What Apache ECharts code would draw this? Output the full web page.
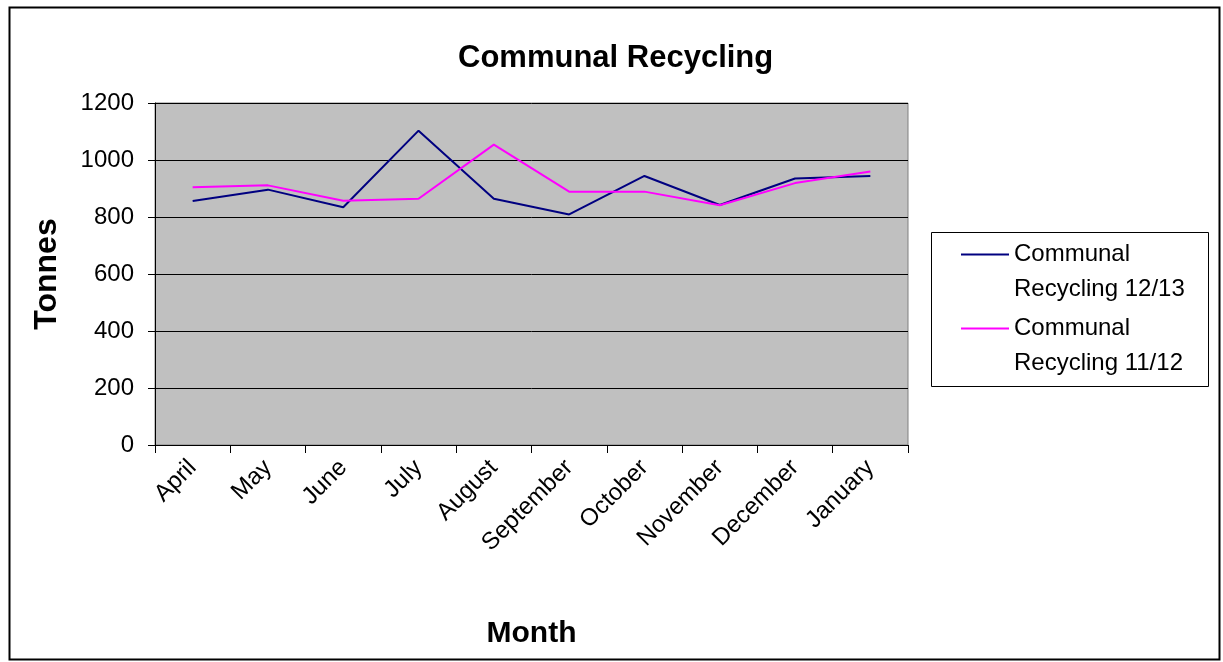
<!DOCTYPE html>
<html>
<head>
<meta charset="utf-8">
<script src="https://cdn.jsdelivr.net/npm/echarts@6/dist/echarts.min.js"></script>
<style>
html,body{margin:0;padding:0;background:#fff;}
#chart{width:1223px;height:662px;}
</style>
</head>
<body>
<div id="chart"></div>
<script>
const months = ['April','May','June','July','August','September','October','November','December','January'];
const recycling1213 = [856, 896, 834, 1103, 864, 809, 944, 842, 935, 944];
const recycling1112 = [904, 911, 857, 864, 1054, 889, 889, 841, 919, 960];
const yTicks = [0, 200, 400, 600, 800, 1000, 1200];
const seriesNames = ['Communal\nRecycling 12/13', 'Communal\nRecycling 11/12'];

const FONT = "'Liberation Sans', Arial, sans-serif";
const chart = echarts.init(document.getElementById('chart'), null, {renderer: 'canvas'});
chart.setOption({
  animation: false,
  backgroundColor: '#ffffff',
  title: {
    text: 'Communal Recycling',
    left: 453, top: 38,
    textStyle: {fontFamily: FONT, fontSize: 31, fontWeight: 'bold', color: '#000'}
  },
  graphic: [
    {type: 'rect', left: 7, top: 5, shape: {width: 1210, height: 652}, style: {fill: 'none', stroke: '#000', lineWidth: 2}, silent: true},
    {type: 'rect', left: 931, top: 232, shape: {width: 277, height: 154}, style: {fill: '#fff', stroke: '#000', lineWidth: 1}, silent: true, z: -1}
  ],
  legend: {
    orient: 'vertical',
    left: 961, top: 202,
    padding: 0,
    icon: 'rect',
    itemWidth: 48, itemHeight: 2,
    itemGap: -31,
    data: seriesNames,
    formatter: function (n) { return '\n' + n; },
    textStyle: {fontFamily: FONT, fontSize: 24, color: '#000', lineHeight: 35}
  },
  grid: {
    left: 155, right: 315, top: 103, bottom: 217,
    show: true, backgroundColor: '#C0C0C0', borderColor: '#808080', borderWidth: 1,
    containLabel: false
  },
  xAxis: {
    type: 'category',
    data: months,
    boundaryGap: true,
    name: 'Month', nameLocation: 'middle', nameGap: 174,
    nameTextStyle: {fontFamily: FONT, fontSize: 30, fontWeight: 'bold', color: '#000'},
    axisLine: {lineStyle: {color: '#000', width: 1}},
    axisTick: {show: true, length: 8, lineStyle: {color: '#000'}},
    axisLabel: {rotate: 45, margin: 19, fontFamily: FONT, fontSize: 24, color: '#000', interval: 0},
    splitLine: {show: false}
  },
  yAxis: {
    type: 'value',
    min: yTicks[0], max: yTicks[yTicks.length - 1], interval: 200,
    name: 'Tonnes', nameLocation: 'middle', nameGap: 92,
    nameTextStyle: {fontFamily: FONT, fontSize: 32, fontWeight: 'bold', color: '#000'},
    axisLine: {show: true, lineStyle: {color: '#000', width: 1}},
    axisTick: {show: true, length: 7, lineStyle: {color: '#000'}},
    axisLabel: {margin: 21, fontFamily: FONT, fontSize: 24, color: '#000', formatter: function (v) { return String(v); }},
    splitLine: {show: true, lineStyle: {color: '#000', width: 1}}
  },
  series: [
    {name: seriesNames[0], type: 'line', data: recycling1213, symbol: 'none',
     lineStyle: {color: '#000080', width: 2}, itemStyle: {color: '#000080'}},
    {name: seriesNames[1], type: 'line', data: recycling1112, symbol: 'none',
     lineStyle: {color: '#FF00FF', width: 2}, itemStyle: {color: '#FF00FF'}}
  ]
});
</script>
</body>
</html>
